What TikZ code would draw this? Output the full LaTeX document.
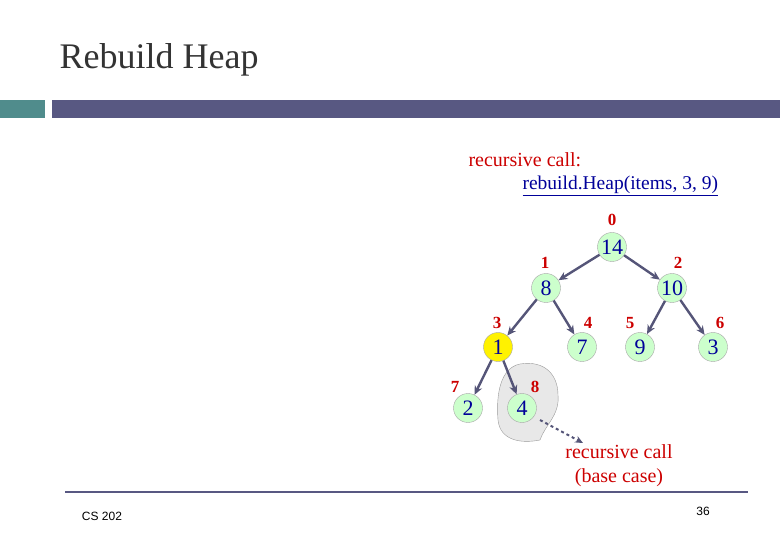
\documentclass[tikz,border=0pt]{standalone}
\usepackage{fontspec}
\setmainfont{Liberation Serif}
\newfontfamily\sans{Liberation Sans}
\usetikzlibrary{arrows.meta}
\definecolor{nodefill}{RGB}{204,255,204}
\definecolor{idx}{RGB}{204,0,0}
\definecolor{val}{RGB}{0,0,153}
\definecolor{edge}{RGB}{85,85,120}
\definecolor{barc}{RGB}{88,88,130}
\definecolor{tealc}{RGB}{80,140,140}
\begin{document}
\begin{tikzpicture}[x=1pt,y=-1pt,
  hn/.style={circle,draw=gray!70,fill=nodefill,minimum size=29pt,inner sep=0pt,font=\fontsize{22}{22}\selectfont,text=val},
  ix/.style={font=\bfseries\fontsize{17}{17}\selectfont,text=idx},
  ed/.style={draw=edge,line width=2.4pt,-{Stealth[length=9pt,width=8pt]}}]
\useasboundingbox (0,0) rectangle (780,540);
\node[anchor=west,font=\fontsize{36}{36}\selectfont,text=black!80] (title) at (56,60) {Rebuild Heap};
\fill[tealc] (0,100) rectangle (45,118);
\fill[barc] (52,100) rectangle (780,118);
\draw[barc,line width=2pt] (65,492) -- (748,492);
\node[font=\sans\fontsize{12}{12}\selectfont] (cs) at (102,516) {CS 202};
\node[font=\sans\fontsize{12}{12}\selectfont] (pg) at (703,511) {36};
\node[anchor=west,text=idx,font=\fontsize{20}{20}\selectfont] (rc) at (465,160) {recursive call:};
\node[anchor=west,text=val,font=\fontsize{19.5}{20}\selectfont] (call) at (519,186) {\underline{rebuild.Heap(items, 3, 9)}};
\draw[fill=gray!18,draw=gray!80] (520,364) .. controls (545,360) and (558,375) .. (558,395)
  .. controls (560,415) and (545,425) .. (540,440) .. controls (520,444) and (500,440) .. (498,420)
  .. controls (496,395) and (500,368) .. (520,364) -- cycle;
\node[hn] (n0) at (612,247) {14};
\node[hn] (n1) at (546,288) {8};
\node[hn] (n2) at (672,288) {10};
\node[hn,fill=yellow] (n3) at (498,347) {1};
\node[hn] (n4) at (582,347) {7};
\node[hn] (n5) at (640,347) {9};
\node[hn] (n6) at (713,347) {3};
\node[hn] (n7) at (468,408) {2};
\node[hn] (n8) at (522,408) {4};
\node[ix] (i0) at (612,220) {0};
\node[ix] (i1) at (545,263) {1};
\node[ix] (i2) at (678,263) {2};
\node[ix] (i3) at (497,323) {3};
\node[ix] (i4) at (588,323) {4};
\node[ix] (i5) at (630,323) {5};
\node[ix] (i6) at (720,323) {6};
\node[ix] (i7) at (455,387) {7};
\node[ix] (i8) at (535,387) {8};
\draw[ed] (n0) -- (n1);
\draw[ed] (n0) -- (n2);
\draw[ed] (n1) -- (n3);
\draw[ed] (n1) -- (n4);
\draw[ed] (n2) -- (n5);
\draw[ed] (n2) -- (n6);
\draw[ed] (n3) -- (n7);
\draw[ed] (n3) -- (n8);
\coordinate (ds) at (540,420);
\coordinate (de) at (583,443);
\draw[edge,line width=2pt,dashed,-{Stealth[length=8pt,width=7pt]}] (ds) -- (de);
\node[text=idx,font=\fontsize{20}{24}\selectfont,align=center] (bc) at (619,466) {recursive call\\(base case)};
\end{tikzpicture}
\end{document}
